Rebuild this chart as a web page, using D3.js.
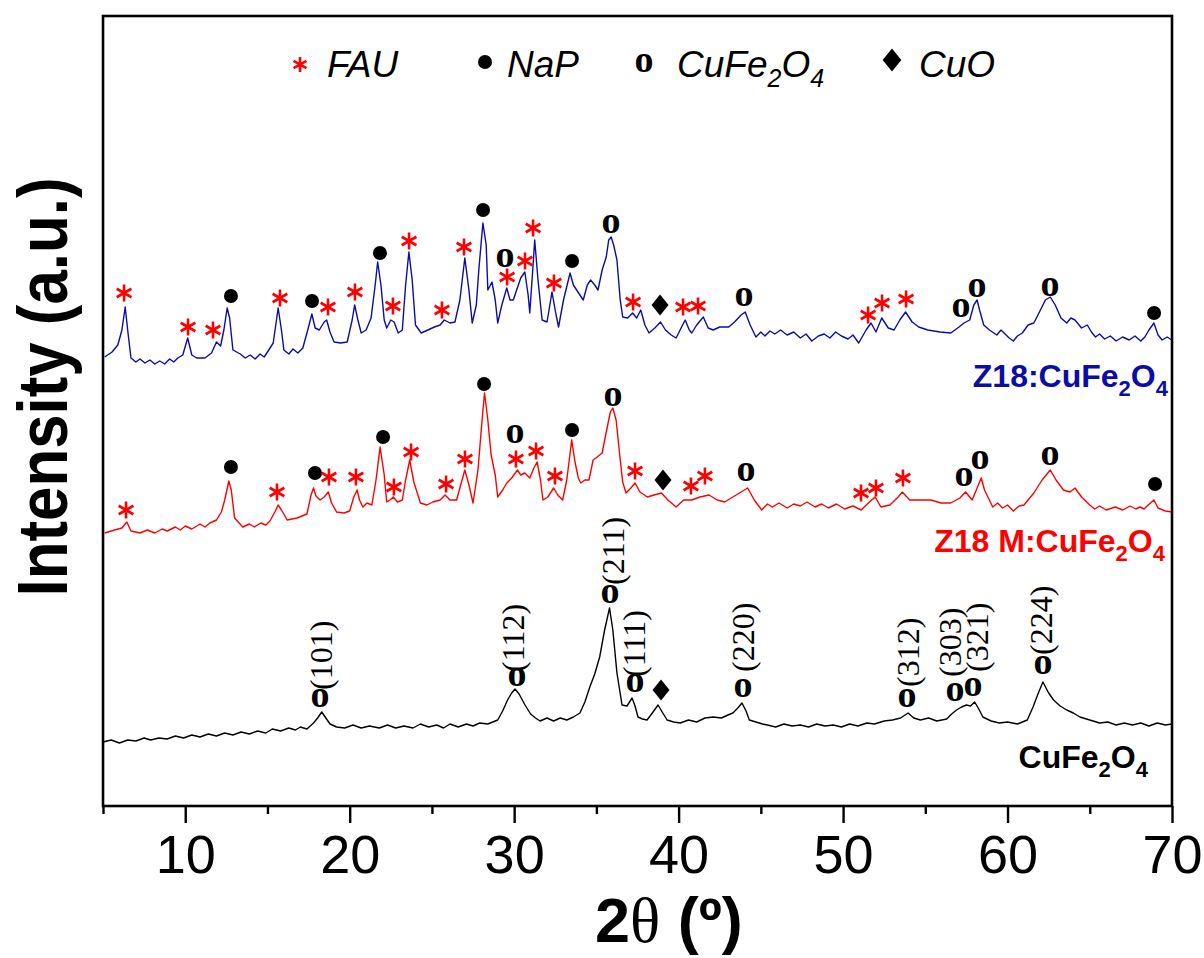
<!DOCTYPE html>
<html><head><meta charset="utf-8">
<script src="https://cdn.jsdelivr.net/npm/d3@7"></script>
<style>body{margin:0;background:#fff;} svg{display:block;}</style>
</head><body><svg id="c" width="1204" height="958"></svg>
<script>
// ---------- DATA (2θ in degrees, intensity in arbitrary units, traces already offset) ----------
const blackData = [[5.0,64],[5.5,66],[6.0,63],[6.5,66],[7.0,65],[7.5,68],[7.9,66],[8.4,68],[8.9,67],[9.4,70],[9.9,68],[10.4,71],[10.9,69],[11.4,72],[11.9,70],[12.4,73],[12.9,71],[13.4,74],[13.9,72],[14.4,75],[14.9,73],[15.3,77],[15.8,75],[16.3,78],[16.7,76],[17.0,79],[17.4,77],[17.8,83],[18.05,88],[18.3,94],[18.55,88],[18.8,82],[19.2,79],[19.7,78],[20.2,81],[20.7,78],[21.2,80],[21.8,78],[22.3,81],[22.8,78],[23.3,80],[23.85,78],[24.3,82],[24.8,79],[25.3,81],[25.7,78],[26.1,82],[26.6,79],[27.1,82],[27.5,80],[27.9,83],[28.4,82],[29.0,86],[29.3,95],[29.6,106],[29.85,113],[30.05,117],[30.3,112],[30.66,101],[31.0,92],[31.3,88],[31.57,85],[32.0,88],[32.4,85],[32.8,88],[33.2,86],[33.6,89],[34.0,93],[34.3,104],[34.6,119],[34.9,132],[35.2,149],[35.5,176],[35.8,198],[36.0,176],[36.25,133],[36.56,101],[36.86,100],[37.17,108],[37.35,100],[37.53,89],[37.8,87],[38.08,86],[38.4,93],[38.75,101],[39.0,94],[39.3,86],[39.7,84],[40.1,83],[40.6,86],[41.1,84],[41.6,88],[42.1,89],[42.6,88],[43.0,91],[43.3,93],[43.6,98],[43.85,103],[44.1,95],[44.3,86],[44.7,84],[45.1,82],[45.4,81],[45.9,79],[46.4,82],[46.9,80],[47.4,81],[47.9,79],[48.4,82],[48.9,80],[49.4,81],[49.9,79],[50.4,82],[50.9,80],[51.45,83],[51.9,82],[52.5,85],[53.0,86],[53.5,88],[53.95,93],[54.3,88],[54.7,86],[55.2,88],[55.7,85],[56.3,87],[56.6,92],[56.9,96],[57.2,99],[57.5,101],[57.75,100],[58.0,104],[58.25,97],[58.5,89],[59.0,85],[59.5,83],[60.0,84],[60.6,82],[61.2,86],[61.55,99],[61.85,112],[62.15,124],[62.5,113],[62.8,106],[63.2,100],[63.6,96],[64.0,93],[64.4,89],[65.0,86],[65.6,83],[66.1,84],[66.6,81],[67.1,83],[67.6,81],[68.1,83],[68.6,80],[69.1,83],[69.6,81],[70.0,82]];

const redData = [[5.1,273],[5.7,276],[6.15,278],[6.45,284],[6.7,275],[7.25,273],[7.7,276],[8.15,273],[8.6,277],[8.9,275],[9.4,279],[9.7,276],[10.0,280],[10.4,277],[10.9,282],[11.2,279],[11.5,283],[11.9,286],[12.2,294],[12.4,306],[12.65,325],[12.8,316],[13.0,288],[13.5,279],[13.9,282],[14.2,279],[14.6,283],[14.9,281],[15.15,285],[15.45,294],[15.65,301],[15.85,296],[16.2,286],[16.8,288],[17.4,292],[17.65,311],[17.8,318],[17.95,310],[18.2,306],[18.45,309],[18.7,314],[18.9,303],[19.2,294],[19.65,293],[20.0,295],[20.25,309],[20.45,316],[20.6,306],[20.8,299],[21.05,303],[21.35,301],[21.6,326],[21.85,359],[22.1,331],[22.25,304],[22.45,306],[22.65,309],[22.9,304],[23.2,306],[23.4,326],[23.65,346],[23.9,324],[24.3,303],[24.7,301],[25.05,304],[25.5,306],[25.8,311],[26.1,306],[26.5,306],[26.75,321],[27.0,336],[27.25,321],[27.5,303],[27.8,336],[28.05,386],[28.2,413],[28.4,386],[28.6,351],[28.85,331],[29.0,309],[29.3,316],[29.55,323],[29.85,328],[30.2,336],[30.4,331],[30.65,333],[30.95,328],[31.2,338],[31.4,344],[31.6,326],[31.75,306],[32.05,309],[32.4,318],[32.65,311],[32.95,306],[33.2,326],[33.5,366],[33.7,344],[33.9,328],[34.05,323],[34.3,326],[34.55,326],[34.8,346],[35.05,349],[35.35,353],[35.6,374],[35.85,394],[36.0,398],[36.2,386],[36.45,346],[36.6,324],[36.8,313],[37.1,318],[37.35,323],[37.65,314],[38.1,309],[38.5,311],[38.95,313],[39.35,306],[39.85,299],[40.3,306],[40.8,306],[41.3,309],[41.85,311],[42.35,306],[42.8,304],[43.3,309],[43.8,314],[44.2,318],[44.6,306],[45.05,296],[45.4,302],[45.7,299],[46.1,303],[46.6,298],[47.0,302],[47.4,300],[47.8,304],[48.3,299],[48.7,302],[49.1,298],[49.6,302],[50.1,297],[50.6,300],[51.1,296],[51.6,304],[51.95,309],[52.3,299],[52.85,301],[53.35,309],[53.6,314],[54.05,306],[54.7,306],[55.35,306],[55.95,303],[56.55,303],[57.1,308],[57.45,314],[57.85,306],[58.15,318],[58.4,328],[58.6,316],[59.1,299],[59.4,303],[59.7,298],[60.0,301],[60.35,295],[60.7,300],[61.0,301],[61.6,313],[62.1,326],[62.6,336],[62.95,326],[63.4,316],[63.8,314],[64.1,318],[64.5,309],[65.0,301],[65.3,297],[65.6,300],[66.0,296],[66.55,299],[67.0,296],[67.45,300],[67.8,297],[68.05,299],[68.3,297],[68.55,301],[68.9,306],[69.15,298],[69.6,295],[70.0,294]];

const blueData = [[5.1,449],[5.55,454],[5.9,461],[6.15,476],[6.35,499],[6.5,476],[6.7,448],[7.0,444],[7.25,447],[7.55,443],[7.85,446],[8.15,442],[8.45,445],[8.75,442],[9.05,447],[9.3,444],[9.55,448],[9.85,451],[10.15,468],[10.4,451],[10.7,448],[11.2,448],[11.6,453],[11.9,464],[12.15,460],[12.35,476],[12.55,498],[12.7,488],[12.9,456],[13.35,452],[13.65,448],[13.95,451],[14.25,447],[14.55,452],[14.8,449],[15.0,454],[15.35,463],[15.65,498],[15.85,476],[16.0,456],[16.3,452],[16.55,457],[16.85,453],[17.15,458],[17.45,476],[17.7,492],[17.9,478],[18.15,476],[18.45,484],[18.6,486],[18.8,474],[19.05,464],[19.45,463],[19.85,464],[20.15,486],[20.3,501],[20.5,486],[20.7,473],[21.0,476],[21.3,488],[21.55,521],[21.7,544],[21.9,521],[22.1,486],[22.25,478],[22.5,486],[22.7,484],[22.95,473],[23.2,476],[23.4,521],[23.6,554],[23.8,526],[24.0,481],[24.35,473],[24.75,476],[25.15,479],[25.5,481],[25.75,486],[26.1,483],[26.4,484],[26.7,506],[27.0,548],[27.25,516],[27.45,483],[27.7,501],[27.85,536],[28.1,583],[28.3,561],[28.4,516],[28.65,524],[28.85,506],[29.0,483],[29.25,501],[29.55,518],[29.75,506],[29.95,506],[30.15,516],[30.4,528],[30.65,534],[30.85,511],[30.95,493],[31.15,541],[31.25,566],[31.45,526],[31.7,486],[32.0,484],[32.3,514],[32.55,491],[32.7,479],[33.0,506],[33.4,533],[33.6,521],[33.8,516],[34.2,506],[34.45,521],[34.65,526],[34.9,521],[35.1,516],[35.35,536],[35.6,549],[35.75,566],[35.9,569],[36.05,561],[36.25,546],[36.45,506],[36.6,489],[36.9,488],[37.2,493],[37.45,488],[37.7,496],[37.95,481],[38.2,473],[38.55,478],[38.9,484],[39.2,476],[39.55,471],[39.85,468],[40.15,478],[40.4,486],[40.65,476],[40.8,473],[41.1,481],[41.5,489],[41.8,478],[42.1,476],[42.5,479],[43.05,479],[43.4,484],[43.8,491],[44.05,494],[44.35,481],[44.7,469],[45.0,474],[45.25,470],[45.55,475],[45.85,472],[46.2,476],[46.6,471],[47.0,474],[47.4,468],[47.75,472],[48.1,465],[48.5,470],[48.85,472],[49.2,468],[49.55,474],[49.9,470],[50.3,467],[50.6,471],[50.95,463],[51.4,476],[51.7,483],[52.0,474],[52.35,488],[52.75,478],[53.1,476],[53.45,486],[53.8,494],[54.2,484],[54.6,479],[55.15,476],[55.9,474],[56.55,473],[57.05,479],[57.35,483],[57.7,486],[57.95,501],[58.15,506],[58.3,496],[58.55,481],[58.9,476],[59.35,471],[59.6,476],[59.85,472],[60.1,468],[60.35,465],[60.6,470],[60.9,473],[61.25,481],[61.6,483],[62.0,496],[62.3,506],[62.6,509],[62.9,501],[63.25,488],[63.6,483],[63.85,488],[64.1,486],[64.5,478],[64.85,481],[65.1,474],[65.35,469],[65.6,472],[65.9,467],[66.25,470],[66.6,465],[67.0,469],[67.4,466],[67.75,470],[68.1,465],[68.35,469],[68.6,476],[68.9,483],[69.15,471],[69.4,466],[69.7,469],[70.0,466]];

// Phase markers: [2θ, intensity position, phase]  ('*' FAU, '●' NaP, 'o' CuFe2O4, '♦' CuO)
const blueMarkers = [[6.28,513,'*'],[10.17,479,'*'],[11.69,476,'*'],[12.78,510,'●'],[15.76,508,'*'],[17.71,505,'●'],[18.68,499,'*'],[20.32,514,'*'],[21.84,553,'●'],[22.63,500,'*'],[23.61,565,'*'],[25.61,496,'*'],[26.95,559,'*'],[28.11,596,'●'],[29.44,548,'o'],[29.57,529,'*'],[30.66,545,'*'],[31.15,578,'*'],[32.42,523,'*'],[33.52,545,'●'],[35.89,582,'o'],[37.23,504,'*'],[38.87,501,'♦'],[40.27,499,'*'],[41.18,500,'*'],[43.98,509,'o'],[51.52,491,'*'],[52.37,503,'*'],[53.83,507,'*'],[57.17,498,'o'],[58.14,518,'o'],[62.58,519,'o'],[68.91,493,'●']];
const redMarkers = [[6.40,296,'*'],[12.78,339,'●'],[15.58,314,'*'],[17.89,333,'●'],[18.74,329,'*'],[20.38,329,'*'],[22.03,369,'●'],[22.69,319,'*'],[23.73,354,'*'],[25.86,322,'*'],[27.01,347,'*'],[28.17,422,'●'],[30.05,372,'o'],[30.11,347,'*'],[31.33,355,'*'],[32.48,330,'*'],[33.52,376,'●'],[36.01,409,'o'],[37.35,335,'*'],[39.05,326,'♦'],[40.75,320,'*'],[41.6,330,'*'],[44.1,334,'o'],[51.09,313,'*'],[52.0,318,'*'],[53.64,328,'*'],[57.35,329,'o'],[58.33,346,'o'],[62.58,350,'o'],[68.97,322,'●']];
const blackMarkers = [[18.19,108,'o'],[30.17,129,'o'],[35.83,212,'o'],[37.35,123,'o'],[38.93,116,'♦'],[43.92,118,'o'],[53.89,108,'o'],[56.81,114,'o'],[57.9,119,'o'],[62.16,141,'o']];
// Miller-index labels for CuFe2O4: [text, 2θ, intensity at label start]
const hklLabels = [['(101)',18.44,116],['(112)',30.11,134],['(211)',36.19,221],['(111)',37.47,129],['(220)',44.1,134],['(312)',54.13,119],['(303)',56.68,129],['(321)',58.33,134],['(224)',62.22,151]];

const xTicks = [10,20,30,40,50,60,70];
const xMinorTicks = [5,15,25,35,45,55,65];
const legendSymbols = ['*','●','o','♦'];
const legendLabels = [['FAU'],['NaP'],['CuFe','2','O','4'],['CuO']];
const seriesNames = [['Z18:CuFe','2','O','4'],['Z18 M:CuFe','2','O','4'],['CuFe','2','O','4']];
const seriesColors = ['#0c0ca6','#ff0000','#000000'];

// ---------- DRAWING ----------
const SANS = "'Liberation Sans', Arial, Helvetica, sans-serif";
const SERIF = "'Liberation Serif', 'Times New Roman', Times, serif";
const svg = d3.select('#c');
svg.append('rect').attr('width',1204).attr('height',958).attr('fill','#fff');

const x = d3.scaleLinear().domain([5,70]).range([103,1172]);
const y = d3.scaleLinear().domain([0,790]).range([806,16]);

const line = d3.line().x(d=>x(d[0])).y(d=>y(d[1]));
[[blackData,2],[redData,1],[blueData,0]].forEach(([d,i])=>{
  svg.append('path').datum(d).attr('d',line).attr('fill','none')
    .attr('stroke',seriesColors[i]).attr('stroke-width',1.4).attr('stroke-linejoin','round');
});

function asteriskPath(r){
  const u = r*Math.sqrt(3)/2, t = r/2;
  return `M0,${-r}L0,${r}M${-u},${-t}L${u},${t}M${-u},${t}L${u},${-t}`;
}
function drawMarker(g, type, cx, cy, big){
  const s = big||1;
  if(type==='*'){
    g.append('path').attr('d',asteriskPath(8.5*s)).attr('transform',`translate(${cx},${cy})`)
      .attr('stroke','#ff0000').attr('stroke-width',2.6).attr('fill','none').attr('stroke-linecap','butt');
  } else if(type==='●'){
    g.append('circle').attr('cx',cx).attr('cy',cy).attr('r',7).attr('fill','#000');
  } else if(type==='o'){
    g.append('text').attr('x',cx).attr('y',cy).attr('dy','0.23em').attr('text-anchor','middle')
      .attr('font-family',SERIF).attr('font-weight','bold').attr('font-size',38).attr('fill','#000').text('o');
  } else if(type==='♦'){
    const w=8.5*s, h=10.5*s;
    g.append('path').attr('d',`M0,${-h}L${w},0L0,${h}L${-w},0Z`).attr('transform',`translate(${cx},${cy})`).attr('fill','#000');
  }
}
const mg = svg.append('g');
[blueMarkers, redMarkers, blackMarkers].forEach(arr=>arr.forEach(m=>drawMarker(mg, m[2], x(m[0]), y(m[1]))));

hklLabels.forEach(h=>{
  svg.append('text').attr('transform',`translate(${x(h[1])},${y(h[2])}) rotate(-90)`)
    .attr('dy','0.26em').attr('text-anchor','start').attr('font-family',SERIF)
    .attr('font-size',32).attr('fill','#000').text(h[0]);
});

// series labels
const labelPos = [[1168,387],[1165,552],[1148,768]];
seriesNames.forEach((parts,i)=>{
  const t = svg.append('text').attr('x',labelPos[i][0]).attr('y',labelPos[i][1]).attr('text-anchor','end')
    .attr('font-family',SANS).attr('font-weight','bold').attr('font-size',32).attr('fill',seriesColors[i]);
  parts.forEach((p,j)=>{
    const sub = j%2===1;
    t.append('tspan').attr('font-size',sub?22:32).attr('dy', j===0?0:(sub?9:-9)).text(p);
  });
});

// legend
const legSymX = [300,485,644,892], legSymY=[64.5,62,63.5,60], legTxtX=[327,507,677,919];
legendSymbols.forEach((s,i)=>{
  drawMarker(svg, s, legSymX[i], legSymY[i], s==='*'?0.88:(s==='♦'?1.1:1));
  const t = svg.append('text').attr('x',legTxtX[i]).attr('y',77).attr('font-family',SANS)
    .attr('font-style','italic').attr('font-size',37).attr('fill','#000');
  legendLabels[i].forEach((p,j)=>{
    const sub = j%2===1;
    t.append('tspan').attr('font-size',sub?25:37).attr('dy', j===0?0:(sub?10:-10)).text(p);
  });
});

// axes
const ax = svg.append('g').attr('transform','translate(0,806)')
  .call(d3.axisBottom(x).tickValues(xTicks).tickSize(17).tickPadding(12).tickFormat(d3.format('d')));
ax.select('.domain').remove();
ax.selectAll('line').attr('stroke','#000').attr('stroke-width',2.4);
ax.selectAll('text').attr('font-family',SANS).attr('font-size',54).attr('fill','#000');
const axm = svg.append('g').attr('transform','translate(0,806)')
  .call(d3.axisBottom(x).tickValues(xMinorTicks).tickSize(8).tickFormat(''));
axm.select('.domain').remove();
axm.selectAll('line').attr('stroke','#000').attr('stroke-width',2.4);

// frame
svg.append('rect').attr('x',x(5)).attr('y',y(790)).attr('width',x(70)-x(5)).attr('height',y(0)-y(790))
  .attr('fill','none').attr('stroke','#000').attr('stroke-width',2.6);

// axis titles
const xt = svg.append('text').attr('x',595).attr('y',942).attr('font-family',SANS).attr('font-weight','bold')
  .attr('font-size',63).attr('fill','#000');
xt.append('tspan').text('2');
xt.append('tspan').attr('font-family',SERIF).attr('font-weight','normal').text('θ');
xt.append('tspan').text(' (º)');

svg.append('text').attr('transform','translate(67,387) rotate(-90)').attr('text-anchor','middle')
  .attr('font-family',SANS).attr('font-weight','bold').attr('font-size',70)
  .attr('textLength',419).attr('lengthAdjust','spacingAndGlyphs').attr('fill','#000').text('Intensity (a.u.)');
</script>
</body></html>
